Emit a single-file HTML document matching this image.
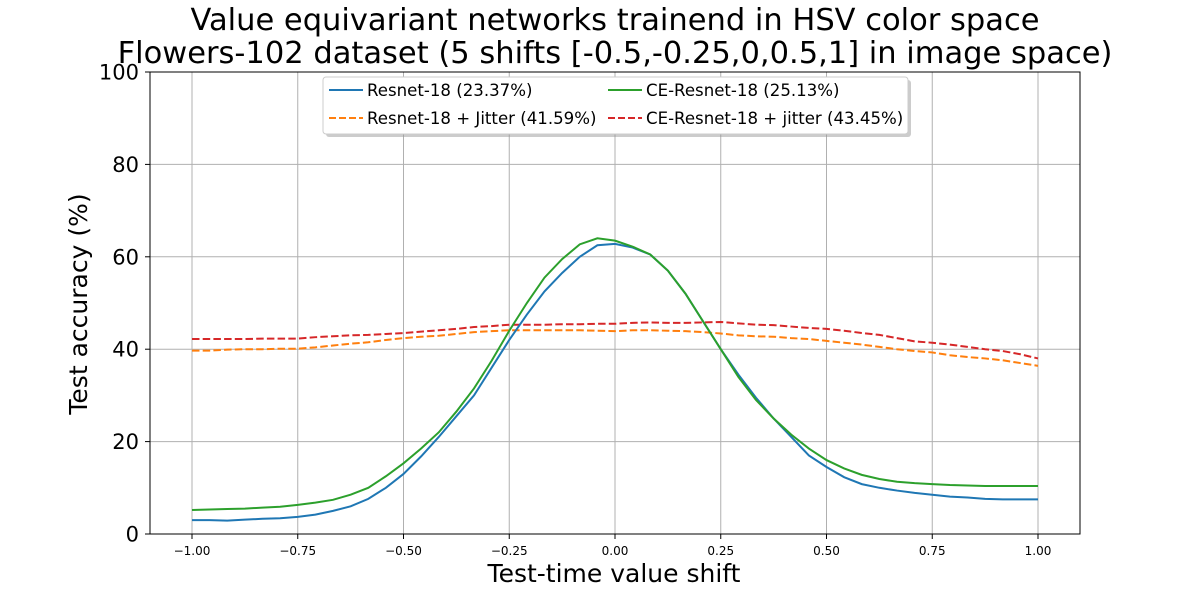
<!DOCTYPE html>
<html><head><meta charset="utf-8"><style>
body{margin:0;background:#fff}
svg{display:block;font-family:"DejaVu Sans","Liberation Sans",sans-serif}
</style></head><body>
<svg id="chart" width="1200" height="600">
<text x="615" y="30" text-anchor="middle" font-size="30.5">Value equivariant networks trainend in HSV color space</text>
<text x="615" y="63" text-anchor="middle" font-size="30.5">Flowers-102 dataset (5 shifts [-0.5,-0.25,0,0.5,1] in image space)</text>
<g id="grid"></g>
<g id="series"></g>
<rect x="150" y="72" width="930" height="462" fill="none" stroke="#000" stroke-width="1"/>
<g id="ticks"></g>
<text x="614" y="582" text-anchor="middle" font-size="25">Test-time value shift</text>
<text transform="translate(87,304) rotate(-90)" text-anchor="middle" font-size="25">Test accuracy (%)</text>
<g>
<rect x="326" y="80" width="585" height="57" rx="3" fill="#999" opacity="0.5"/>
<rect x="323" y="77" width="585" height="57" rx="3" fill="#fff" stroke="#ccc"/>
<line x1="329" y1="90" x2="363" y2="90" stroke="#1f77b4" stroke-width="2"/>
<text x="367" y="96" font-size="16.6">Resnet-18 (23.37%)</text>
<line x1="608" y1="90" x2="642" y2="90" stroke="#2ca02c" stroke-width="2"/>
<text x="646" y="96" font-size="16.6">CE-Resnet-18 (25.13%)</text>
<line x1="329" y1="118" x2="363" y2="118" stroke="#ff7f0e" stroke-width="2" stroke-dasharray="7,3"/>
<text x="367" y="124" font-size="16.6">Resnet-18 + Jitter (41.59%)</text>
<line x1="608" y1="118" x2="642" y2="118" stroke="#d62728" stroke-width="2" stroke-dasharray="7,3"/>
<text x="646" y="124" font-size="16.6">CE-Resnet-18 + jitter (43.45%)</text>
</g>
</svg>
<script>
const xTicks=[-1,-0.75,-0.5,-0.25,0,0.25,0.5,0.75,1];
const xTickLabels=["−1.00","−0.75","−0.50","−0.25","0.00","0.25","0.50","0.75","1.00"];
const yTicks=[0,20,40,60,80,100];
const shifts=Array.from({length:49},(_,i)=>-1+i/24);
const resnet=[3.0,3.0,2.9,3.1,3.3,3.4,3.7,4.2,5.0,6.0,7.6,10.0,13.0,16.8,21.0,25.5,30.0,36.0,42.0,47.5,52.5,56.5,60.0,62.5,62.8,62.0,60.5,57.0,52.0,46.0,40.0,34.5,29.5,25.0,21.0,17.0,14.5,12.3,10.8,10.0,9.4,8.9,8.5,8.1,7.9,7.6,7.5,7.5,7.5];
const ceResnet=[5.2,5.3,5.4,5.5,5.7,5.9,6.3,6.8,7.4,8.5,10.0,12.5,15.3,18.5,22.0,26.5,31.5,37.5,44.0,50.0,55.5,59.5,62.7,64.0,63.5,62.2,60.5,57.0,52.0,46.0,40.0,34.0,29.0,25.0,21.5,18.5,16.0,14.2,12.8,11.9,11.3,11.0,10.8,10.6,10.5,10.4,10.4,10.4,10.4];
const resnetJitter=[39.7,39.7,39.9,40.0,40.0,40.1,40.1,40.4,40.8,41.2,41.5,42.0,42.4,42.7,42.9,43.3,43.7,43.9,44.1,44.1,44.1,44.1,44.1,44.0,43.9,44.1,44.1,44.0,43.9,43.7,43.4,43.0,42.8,42.7,42.4,42.2,41.8,41.4,41.0,40.5,40.0,39.6,39.3,38.7,38.3,38.0,37.6,37.0,36.4];
const ceJitter=[42.2,42.2,42.2,42.2,42.3,42.3,42.3,42.6,42.8,43.0,43.1,43.3,43.5,43.8,44.1,44.4,44.8,45.0,45.3,45.3,45.3,45.4,45.4,45.5,45.5,45.7,45.8,45.7,45.7,45.8,45.9,45.6,45.3,45.2,44.9,44.6,44.4,44.0,43.5,43.1,42.4,41.7,41.4,41.0,40.5,40.0,39.6,38.9,38.0];
const X=v=>615+v*423, Y=v=>534-v*4.62;
const NS="http://www.w3.org/2000/svg";
const grid=document.getElementById('grid'), ticks=document.getElementById('ticks'), ser=document.getElementById('series');
function mk(tag,attrs,parent){const e=document.createElementNS(NS,tag);for(const k in attrs)e.setAttribute(k,attrs[k]);parent.appendChild(e);return e;}
xTicks.forEach((t,i)=>{
  const g=mk('line',{x1:X(t),x2:X(t),y1:72,y2:534,stroke:'#b0b0b0','stroke-width':1},grid);
  
  
  mk('line',{x1:X(t),x2:X(t),y1:534,y2:539,stroke:'#000'},ticks);
  const l=mk('text',{x:X(t),y:555,'text-anchor':'middle','font-size':12},ticks);
  l.textContent=xTickLabels[i];
  
  
});
yTicks.forEach(t=>{
  const g=mk('line',{x1:150,x2:1080,y1:Y(t),y2:Y(t),stroke:'#b0b0b0','stroke-width':1},grid);
  
  
  mk('line',{x1:145,x2:150,y1:Y(t),y2:Y(t),stroke:'#000'},ticks);
  const l=mk('text',{x:139,y:Y(t)+7.5,'text-anchor':'end','font-size':21},ticks);
  l.textContent=t;
  
  
});
const S=[[resnetJitter,'#ff7f0e','7.5,3.2','resnet18-jitter-line'],[ceJitter,'#d62728','7.5,3.2','ce-resnet18-jitter-line'],[resnet,'#1f77b4','','resnet18-line'],[ceResnet,'#2ca02c','','ce-resnet18-line']];
S.forEach(([d,c,da,n])=>{
  const p=mk('polyline',{points:d.map((v,i)=>X(shifts[i])+','+Y(v)).join(' '),fill:'none',stroke:c,'stroke-width':2,'stroke-dasharray':da},ser);
  
  
});
</script>
</body></html>
